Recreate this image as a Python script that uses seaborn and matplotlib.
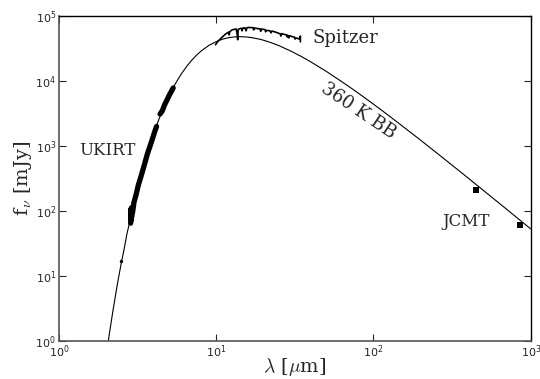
import numpy as np
import matplotlib
matplotlib.use('Agg')
import matplotlib.pyplot as plt
from matplotlib.ticker import LogLocator, NullLocator
import seaborn as sns

# 360 K blackbody (wavelength in micron, flux in mJy)
bb_wave = [2.0, 2.1, 2.2, 2.35, 2.5, 2.6, 2.7, 2.8, 3.0, 3.15, 3.3, 3.45, 3.6, 3.8,
           4.0, 4.25, 4.5, 4.75, 5.0, 5.25, 5.5, 6.0, 6.5, 7.0, 7.5, 8.0, 9.0, 10,
           11, 12, 13, 14, 15.5, 17, 19, 20, 22, 25, 30, 35, 40, 50, 60, 70, 85,
           100, 120, 150, 200, 250, 300, 400, 500, 700, 1000]
bb_flux = [0.6, 1.35, 2.8, 7.3, 16.5, 26, 43, 63, 135, 214, 335, 490, 700, 1060,
           1540, 2310, 3290, 4460, 5790, 7360, 9060, 12800, 16800, 20900, 24900,
           28700, 35300, 40200, 44000, 46300, 47500, 48000, 47500, 46200, 43700,
           42300, 39300, 35000, 28600, 23600, 19600, 14100, 10500, 8170, 5850,
           4390, 3160, 2090, 1220, 796, 560, 321, 207, 107, 53]

# UKIRT spectra (two pieces)
ukirt1_wave = [2.86, 2.87, 2.88, 2.89, 2.90, 2.92, 2.94, 2.97, 3.0, 3.1, 3.2, 3.35,
               3.5, 3.65, 3.8, 3.95, 4.08, 4.18]
ukirt1_flux = [65, 105, 72, 112, 80, 108, 95, 112, 135, 180, 250, 360,
               520, 750, 1000, 1330, 1700, 2000]
ukirt2_wave = [4.40, 4.55, 4.7, 4.85, 5.0, 5.15, 5.33]
ukirt2_flux = [3100, 3500, 4300, 5000, 5850, 6700, 7800]
# single photometric point
phot_wave = [2.48]
phot_flux = [17]

# Spitzer spectrum
sp_wave = [9.9, 10.2, 10.6, 11.0, 11.4, 11.8, 12.0, 12.1, 12.2, 12.6, 13.0, 13.4,
           13.6, 13.7, 13.8, 14.2, 14.5, 14.6, 14.8, 15.2, 15.5, 15.7, 16.2, 16.8,
           17.2, 17.3, 17.5, 18.3, 19.0, 19.2, 19.4, 20.0, 20.5, 20.6, 21.0, 22.0,
           22.3, 22.6, 23.5, 24.5, 25.5, 25.8, 26.1, 27.0, 28.0, 28.3, 28.5, 29.0,
           29.3, 30.5, 31.5, 31.7, 32.0, 33.0, 34.0, 34.3, 34.3]
sp_flux = [36000, 40000, 44000, 48000, 52000, 55000, 56500, 51000, 57000, 61000,
           62000, 63000, 52000, 43000, 62000, 64000, 64500, 59000, 65000, 66000,
           59000, 66000, 66500, 66000, 66000, 61000, 65000, 64000, 63000, 58000,
           63000, 62000, 61500, 57000, 60000, 59000, 55000, 58500, 57000, 55000,
           53000, 49000, 53500, 52000, 51000, 47500, 50500, 46000, 49500, 48000,
           47000, 44000, 46000, 45000, 44000, 49000, 40000]

# JCMT photometry
jcmt_wave = [450, 850]
jcmt_flux = [210, 62]

sns.set_style('ticks')
plt.rcParams['font.family'] = 'serif'
plt.rcParams['font.serif'] = ['DejaVu Serif']
plt.rcParams['mathtext.fontset'] = 'cm'
plt.rcParams['axes.formatter.use_mathtext'] = True

fig = plt.figure(figsize=(5.4, 3.79), dpi=100)
ax = fig.add_axes([0.109, 0.100, 0.874, 0.858])

sns.lineplot(x=bb_wave, y=bb_flux, ax=ax, color='k', lw=0.8, sort=False, estimator=None)
sns.lineplot(x=ukirt1_wave, y=ukirt1_flux, ax=ax, color='k', lw=3.8, sort=False, estimator=None)
sns.lineplot(x=ukirt2_wave, y=ukirt2_flux, ax=ax, color='k', lw=3.8, sort=False, estimator=None)
sns.lineplot(x=sp_wave, y=sp_flux, ax=ax, color='k', lw=1.2, sort=False, estimator=None)
sns.scatterplot(x=phot_wave, y=phot_flux, ax=ax, color='k', marker='o', s=6, linewidth=0)
sns.scatterplot(x=jcmt_wave, y=jcmt_flux, ax=ax, color='k', marker='s', s=22, linewidth=0)

ax.set_xscale('log')
ax.set_yscale('log')
ax.set_xlim(1, 1000)
ax.set_ylim(1, 1e5)
ax.xaxis.set_major_locator(LogLocator(base=10, numticks=10))
ax.yaxis.set_major_locator(LogLocator(base=10, numticks=10))
ax.xaxis.set_minor_locator(NullLocator())
ax.yaxis.set_minor_locator(NullLocator())
ax.tick_params(direction='in', length=5, width=0.8, top=True, right=True,
               labelsize=8, pad=2)
for lab in ax.get_xticklabels() + ax.get_yticklabels():
    lab.set_family('DejaVu Sans')
for side in ['left', 'bottom']:
    ax.spines[side].set_color('#555555')
    ax.spines[side].set_linewidth(1.2)
for side in ['top', 'right']:
    ax.spines[side].set_color('k')
    ax.spines[side].set_linewidth(1.0)

ax.set_xlabel(r'$\lambda$ [$\mu$m]', fontsize=14, labelpad=-3)
ax.set_ylabel(r'f$_\nu$ [mJy]', fontsize=14, labelpad=1)

ax.text(1.35, 850, 'UKIRT', fontsize=12, va='center', ha='left')
ax.text(41, 45000, 'Spitzer', fontsize=13, va='center', ha='left')
ax.text(80, 3500, '360 K BB', fontsize=13, va='center', ha='center', rotation=-34)
ax.text(385, 68, 'JCMT', fontsize=12, va='center', ha='center')

fig.savefig('out.png', dpi=100)
